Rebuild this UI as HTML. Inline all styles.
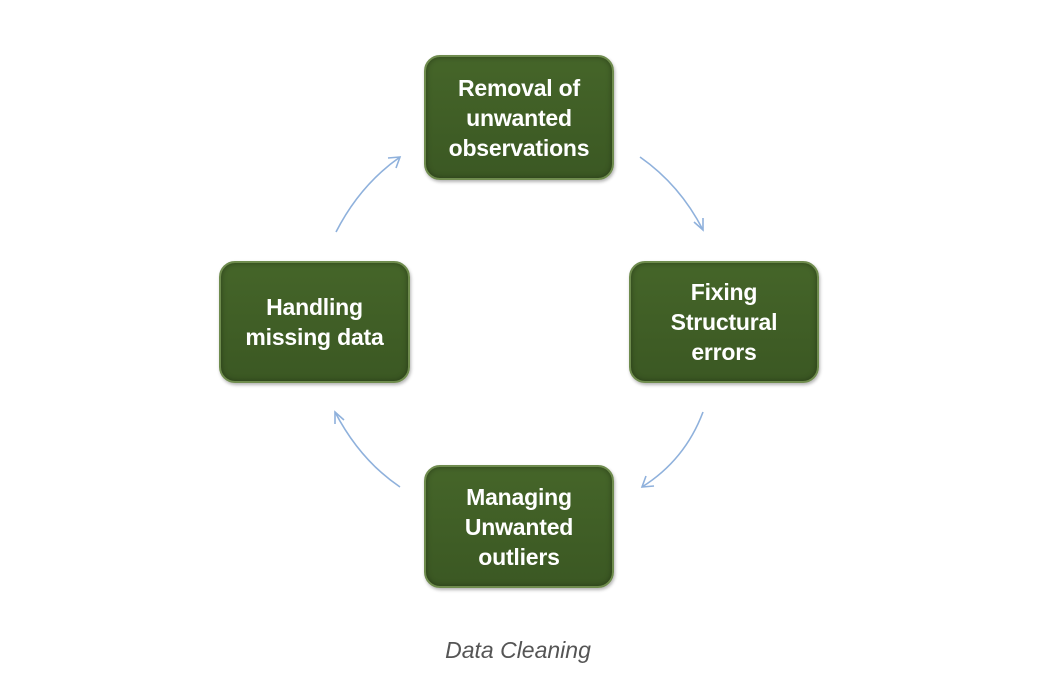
<!DOCTYPE html>
<html><head><style>
body{margin:0;width:1054px;height:680px;background:#fff;position:relative;font-family:"Liberation Sans",sans-serif;overflow:hidden}
.b{position:absolute;width:186px;height:120px;border-radius:16px;background:linear-gradient(#456529,#3b5823);border:2px solid #6f8c4e;box-shadow:inset 0 0 6px rgba(0,0,0,.35),1px 2px 3px rgba(0,0,0,.3);color:#fff;font-weight:bold;font-size:23px;line-height:30px;display:flex;align-items:center;justify-content:center;text-align:center;box-sizing:border-box;letter-spacing:-0.2px}
.c{position:absolute;left:0;width:1036px;top:637px;text-align:center;font-style:italic;color:#555;font-size:23px}
</style></head><body>
<svg width="1054" height="680" style="position:absolute;left:0;top:0" fill="none" stroke="#8fb1dc" stroke-width="1.6">
<path d="M640 157 Q680 185 703 230"/><path d="M694 222 L703 230 L703 218"/>
<path d="M703 412 Q685 460 642 487"/><path d="M646 476 L642 487 L654 486"/>
<path d="M400 487 Q360 460 335 412"/><path d="M335 424 L335 412 L344 420"/>
<path d="M336 232 Q360 185 400 157"/><path d="M388 158 L400 157 L396 168"/>
</svg>
<div class="b" style="left:424px;top:55px;width:190px;height:125px">Removal of<br>unwanted<br>observations</div>
<div class="b" style="left:629px;top:261px;width:190px;height:122px">Fixing<br>Structural<br>errors</div>
<div class="b" style="left:424px;top:465px;width:190px;height:123px">Managing<br>Unwanted<br>outliers</div>
<div class="b" style="left:219px;top:261px;width:191px;height:122px">Handling<br>missing data</div>
<div class="c">Data Cleaning</div>
</body></html>
